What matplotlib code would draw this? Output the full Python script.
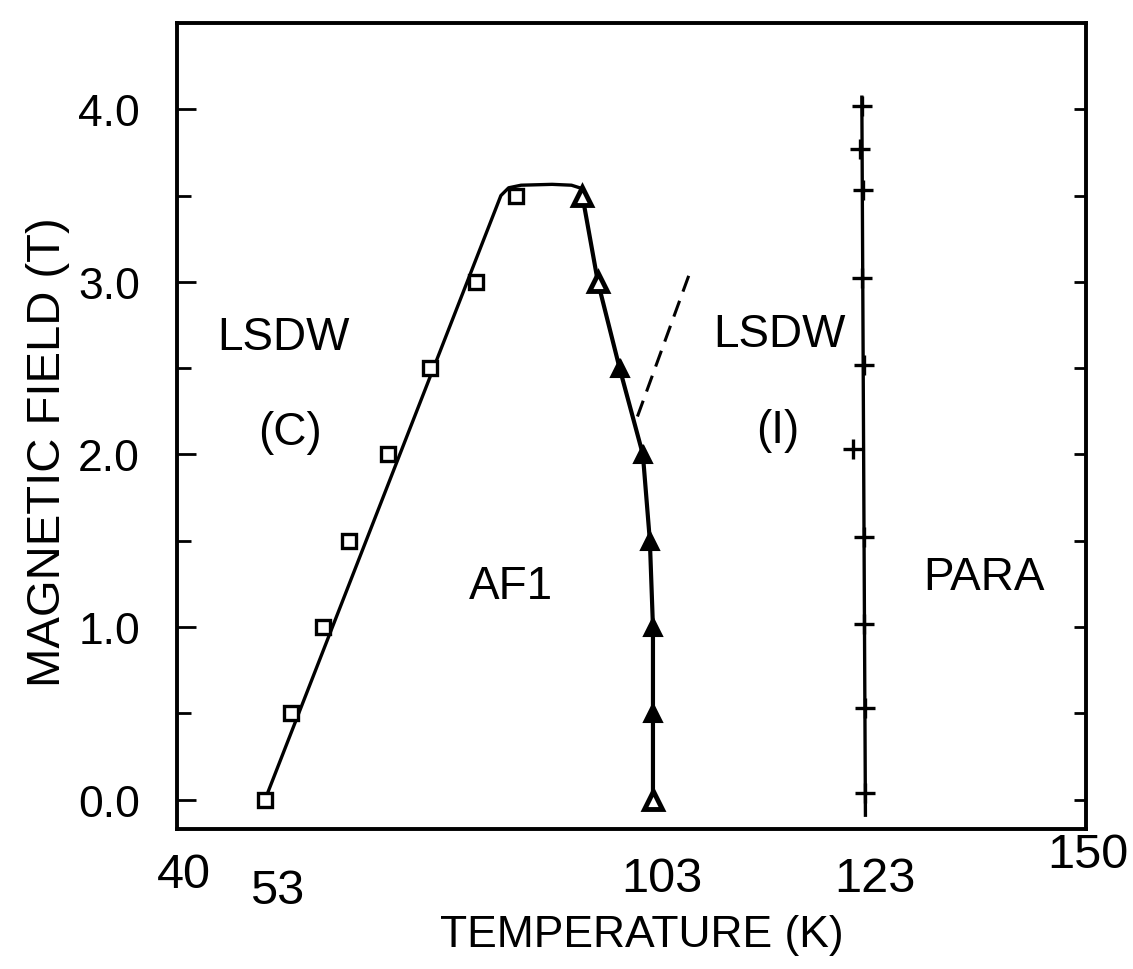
"""
Magnetic phase diagram: field vs temperature, LSDW(C) / AF1 / LSDW(I) / PARA.
"""

import numpy as np
import matplotlib

matplotlib.use("Agg")
import matplotlib.pyplot as plt
from matplotlib.ticker import FixedLocator, NullFormatter
from matplotlib.transforms import ScaledTranslation

plt.rcParams["font.family"] = ["Liberation Sans", "DejaVu Sans"]

# temperature axis is schematic: ticks only at the transition temperatures
T_TICKS = [40, 53, 103, 123, 150]
AXIS_FRAC = [0.0, 0.0964, 0.5234, 0.7568, 1.0]

# LSDW(C) -> AF1, open squares
sq_T = [53.0, 56.4, 60.5, 63.8, 68.9, 74.3, 80.2, 85.3]
sq_H = [0.0, 0.5, 1.0, 1.5, 2.0, 2.5, 3.0, 3.5]

# boundary drawn through the squares and the plateau on top
bnd_T = [53.0, 83.4, 84.4, 86.0, 90.0, 92.5, 93.9]
bnd_H = [0.0, 3.50, 3.545, 3.56, 3.565, 3.56, 3.54]

# AF1 -> LSDW(I), triangles (open ones measured differently)
tri_T = [103.0, 103.0, 103.0, 102.6, 101.7, 98.7, 95.9, 93.9]
tri_H = [0.0, 0.5, 1.0, 1.5, 2.0, 2.5, 3.0, 3.5]
tri_open = [True, False, False, False, False, False, True, True]

# dashed extension of the low-field line
dash_T = [101.0, 106.4]
dash_H = [2.22, 3.04]

# LSDW(I) -> PARA, Neel line with crosses
plus_T = [123.0, 123.0, 122.95, 122.9, 121.85, 122.9, 122.75, 122.85, 122.5, 122.75]
plus_H = [0.04, 0.53, 1.02, 1.52, 2.03, 2.52, 3.02, 3.53, 3.77, 4.02]
neel_T = [123.05, 122.7]
neel_H = [-0.09, 4.07]

Y_MAJOR = [0.0, 1.0, 2.0, 3.0, 4.0]
Y_MINOR = [0.5, 1.5, 2.5, 3.5]


def _fwd(t):
    return np.interp(t, T_TICKS, AXIS_FRAC)


def _inv(f):
    return np.interp(f, AXIS_FRAC, T_TICKS)


fig = plt.figure(figsize=(11.33, 9.70), dpi=100)
ax = fig.add_axes([0.1566, 0.1443, 0.8019, 0.8310])
ax.set_xscale("function", functions=(_fwd, _inv))
ax.set_xlim(40, 150)
ax.set_ylim(-0.17, 4.50)

ax.plot(bnd_T, bnd_H, "-", color="black", lw=2.4)
ax.plot(sq_T, sq_H, "s", ms=10.5, mfc="white", mec="black", mew=2.4, ls="none")

ax.plot(tri_T, tri_H, "-", color="black", lw=3.0)
for t, h, op in zip(tri_T, tri_H, tri_open):
    ax.plot(t, h, "^", ms=13, mfc="white" if op else "black", mec="black",
            mew=3.5 if op else 1.5)

ax.plot(dash_T, dash_H, color="black", lw=2.2, ls=(0, (5.5, 3.2)))

ax.plot(neel_T, neel_H, "-", color="black", lw=2.4)
ax.plot(plus_T, plus_H, "+", ms=14, mew=2.4, color="black", ls="none")

labels = [
    ("LSDW", 55.4, 2.68),
    ("(C)", 56.2, 2.13),
    ("AF1", 84.7, 1.24),
    ("LSDW", 114.9, 2.70),
    ("(I)", 114.8, 2.14),
    ("PARA", 137.5, 1.29),
]
for txt, t, h in labels:
    ax.text(t, h, txt, fontsize=33, ha="center", va="center")

# frame and ticks
for sp in ax.spines.values():
    sp.set_linewidth(2.8)

ax.yaxis.set_major_locator(FixedLocator(Y_MAJOR))
ax.yaxis.set_minor_locator(FixedLocator(Y_MINOR))
ax.yaxis.set_minor_formatter(NullFormatter())
ax.set_yticklabels([f"{v:.1f}" for v in Y_MAJOR])
ax.tick_params(axis="y", which="both", direction="in", left=True, right=True,
               width=2.0, labelsize=32, pad=27)
ax.tick_params(axis="y", which="major", length=14)
ax.tick_params(axis="y", which="minor", length=10)
for tk in ax.yaxis.get_major_ticks() + ax.yaxis.get_minor_ticks():
    tk.tick2line.set_markersize(8.5)

ax.xaxis.set_major_locator(FixedLocator(T_TICKS))
ax.set_xticklabels([str(v) for v in T_TICKS])
ax.xaxis.set_minor_locator(FixedLocator([]))
ax.tick_params(axis="x", which="both", length=0, labelsize=35, pad=19.4)

# hand-lettered labels sit a little off the tick positions
label_shift = [(4.3, 2.9), (8.6, -8.6), (6.5, 0.0), (7.2, 0.0), (1.4, 17.3)]
for lab, (dx, dy) in zip(ax.get_xticklabels(), label_shift):
    lab.set_transform(lab.get_transform() + ScaledTranslation(dx / 72, dy / 72, fig.dpi_scale_trans))

ax.set_xlabel("TEMPERATURE (K)", fontsize=32, va="center")
ax.xaxis.set_label_coords(0.5113, -0.1303)
ax.set_ylabel("MAGNETIC FIELD (T)", fontsize=34, va="center")
ax.yaxis.set_label_coords(-0.1424, 0.469)

fig.savefig("out.png", dpi=100, facecolor="white")
